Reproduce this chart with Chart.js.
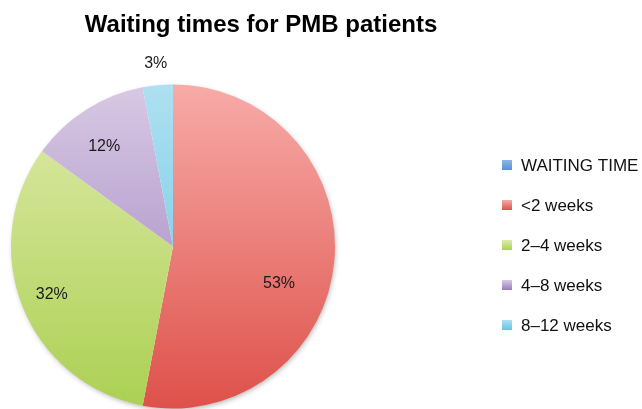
<!DOCTYPE html>
<html>
<head>
<meta charset="utf-8">
<script src="https://cdn.jsdelivr.net/npm/chart.js@4/dist/chart.umd.min.js"></script>
<style>
  html, body { margin: 0; padding: 0; background: #fff; }
  #wrap { width: 642px; height: 409px; position: relative; }
</style>
</head>
<body>
<div id="wrap"><canvas id="chart"></canvas></div>
<script>
"use strict";

// chart data
const chartTitle = 'Waiting times for PMB patients';
const categories = ['WAITING TIME', '<2 weeks', '2\u20134 weeks', '4\u20138 weeks', '8\u201312 weeks'];
const shares = [0, 53, 32, 12, 3];
const shareLabels = ['', '53%', '32%', '12%', '3%'];

// gradient colours, light at the top of the pie, darker at the bottom
const topColors = ['#8db8e6', '#f7aba8', '#e0ebad', '#d8c9e4', '#aee0f0'];
const bottomColors = ['#5591d4', '#de514a', '#abd052', '#9a7cbc', '#63c6e2'];

// where each percent label sits: fraction along the arc, and distance as part of the radius
const labelSpots = [
    { frac: 0.5, r: 0.7 },
    { frac: 0.572, r: 0.693 },
    { frac: 0.5, r: 0.805 },
    { frac: 0.45, r: 0.749 },
    { frac: 0.5, r: 1.135 }
];

const FONT = '"Liberation Sans", Arial, sans-serif';

function verticalGradient(ctx, top, bottom, c1, c2) {
    const g = ctx.createLinearGradient(0, top, 0, bottom);
    g.addColorStop(0, c1);
    g.addColorStop(1, c2);
    return g;
}

/**----------------------------------------------------------------------
 * [soft shadow under the whole pie]
 *--------------------------------------------------------------*/
const pieShadow = {
    id: 'pieShadow',
    beforeDatasetsDraw(chart) {
        const arc = chart.getDatasetMeta(0).data[1];
        if (!arc) return;
        const ctx = chart.ctx;
        ctx.save();
        ctx.shadowColor = 'rgba(0,0,0,0.28)';
        ctx.shadowBlur = 5;
        ctx.shadowOffsetX = 1;
        ctx.shadowOffsetY = 2;
        ctx.fillStyle = '#fff';
        ctx.beginPath();
        ctx.arc(arc.x, arc.y, arc.outerRadius - 0.5, 0, Math.PI * 2);
        ctx.fill();
        ctx.restore();
    }
};

/**----------------------------------------------------------------------
 * [title, percent labels and the legend on the right]
 *--------------------------------------------------------------*/
const decorations = {
    id: 'decorations',
    afterDraw(chart) {
        const ctx = chart.ctx;
        const meta = chart.getDatasetMeta(0);

        ctx.save();
        ctx.fillStyle = '#000';
        ctx.font = 'bold 24px ' + FONT;
        ctx.textAlign = 'center';
        ctx.textBaseline = 'alphabetic';
        ctx.fillText(chartTitle, 261, 32);

        // percent labels
        ctx.font = '16px ' + FONT;
        ctx.fillStyle = '#1a1a1a';
        ctx.textBaseline = 'middle';
        meta.data.forEach((arc, i) => {
            if (!shareLabels[i]) return;
            const spot = labelSpots[i];
            const a = arc.startAngle + (arc.endAngle - arc.startAngle) * spot.frac;
            const r = arc.outerRadius * spot.r;
            ctx.fillText(shareLabels[i], arc.x + Math.cos(a) * r, arc.y + Math.sin(a) * r);
        });

        // legend
        ctx.font = '17px ' + FONT;
        ctx.textAlign = 'left';
        categories.forEach((name, i) => {
            const y = 165 + i * 40;
            ctx.fillStyle = verticalGradient(ctx, y - 5, y + 5, topColors[i], bottomColors[i]);
            ctx.fillRect(502, y - 5, 10, 10);
            ctx.fillStyle = '#111';
            ctx.fillText(name, 521, y + 1);
        });
        ctx.restore();
    }
};

new Chart(document.getElementById('chart').getContext('2d'), {
    type: 'pie',
    data: {
        labels: categories,
        datasets: [{
            data: shares,
            borderWidth: 0,
            backgroundColor: function(context) {
                const area = context.chart.chartArea;
                const i = context.dataIndex;
                if (!area) return bottomColors[i];
                return verticalGradient(context.chart.ctx, area.top, area.bottom, topColors[i], bottomColors[i]);
            }
        }]
    },
    options: {
        responsive: true,
        maintainAspectRatio: false,
        animation: false,
        layout: {
            padding: { left: 11, right: 307, top: 84, bottom: 0 }
        },
        plugins: {
            legend: { display: false },
            title: { display: false },
            tooltip: { enabled: false }
        }
    },
    plugins: [pieShadow, decorations]
});
</script>
</body>
</html>
